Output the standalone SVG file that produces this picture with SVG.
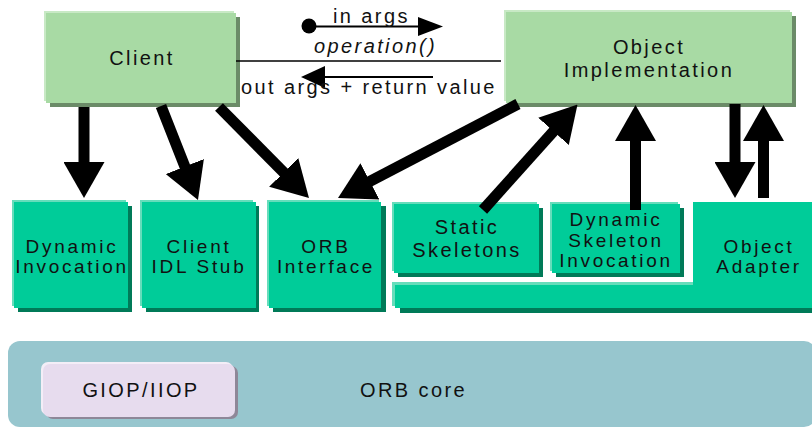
<svg xmlns="http://www.w3.org/2000/svg" width="812" height="428" viewBox="0 0 812 428">
<defs>
<style>
text{font-family:"Liberation Sans",Arial,Helvetica,sans-serif;font-size:20px;letter-spacing:2.4px;fill:#111}
.c{text-anchor:middle}
.s{font-size:19px;letter-spacing:2.7px}
.gl{fill:#C8E9C5}.gm{fill:#A8DAA4}.gs{fill:#6B8B68}
.tl{fill:#66DDBB}.tm{fill:#00CC99}.ts{fill:#007A58}
.big{stroke:#000;stroke-width:11;fill:none;marker-end:url(#head)}
.thin{stroke:#000;stroke-width:2;fill:none}
.hd{fill:#000}
</style>
<marker id="head" markerUnits="userSpaceOnUse" markerWidth="36" markerHeight="41" viewBox="0 0 36 41" refX="6" refY="20.5" orient="auto">
<path d="M0,0 L36,20.5 L0,41 z" fill="#000"/>
</marker>
</defs>
<rect width="812" height="428" fill="#fff"/>

<g id="orb-core">
<rect x="8" y="341" width="808" height="86" rx="12" fill="#97C6CE"/>
<text x="360" y="397">ORB core</text>
</g>
<g id="giop">
<rect x="46" y="366" width="192" height="53" rx="7" fill="#8E8798"/>
<rect x="41" y="362" width="192" height="53" rx="7" fill="#F3EEF7"/>
<rect x="43" y="364" width="192" height="53" rx="7" fill="#E7DCEE"/>
<text class="c" x="141" y="397">GIOP/IIOP</text>
</g>

<g id="client">
<rect class="gs" x="50" y="17" width="190" height="90"/>
<rect class="gl" x="44" y="11" width="190" height="90"/>
<rect class="gm" x="46" y="13" width="190" height="90"/>
<text class="c" x="142" y="65">Client</text>
</g>
<g id="object-implementation">
<rect class="gs" x="510" y="16" width="286" height="91"/>
<rect class="gl" x="504" y="10" width="286" height="91"/>
<rect class="gm" x="506" y="12" width="286" height="91"/>
<text class="c" x="649" y="54">Object</text>
<text class="c" x="649" y="77">Implementation</text>
</g>

<g id="dynamic-invocation">
<rect class="ts" x="18" y="206" width="114" height="106"/>
<rect class="tl" x="12" y="200" width="114" height="106"/>
<rect class="tm" x="14" y="202" width="114" height="106"/>
<text class="c s" x="72" y="252.5">Dynamic</text>
<text class="c s" x="72" y="272.5">Invocation</text>
</g>
<g id="client-idl-stub">
<rect class="ts" x="146" y="206" width="113" height="106"/>
<rect class="tl" x="140" y="200" width="113" height="106"/>
<rect class="tm" x="142" y="202" width="114" height="106"/>
<text class="c s" x="199" y="252.5">Client</text>
<text class="c s" x="199" y="272.5">IDL Stub</text>
</g>
<g id="orb-interface">
<rect class="ts" x="273" y="206" width="113" height="106"/>
<rect class="tl" x="267" y="200" width="112" height="106"/>
<rect class="tm" x="269" y="202" width="112" height="106"/>
<text class="c s" x="326" y="252.5">ORB</text>
<text class="c s" x="326" y="272.5">Interface</text>
</g>

<g id="object-adapter">
<rect class="ts" x="400" y="292" width="420" height="21"/>
<rect class="tl" x="392" y="282" width="302" height="24"/>
<path class="tm" d="M693,202 L812,202 L812,308 L395,308 L395,285 L693,285 Z"/>
<text class="c s" x="759" y="252.5">Object</text>
<text class="c s" x="759" y="272.5">Adapter</text>
</g>
<g id="static-skeletons">
<rect class="ts" x="398" y="208" width="145" height="69"/>
<rect class="tl" x="392" y="202" width="145" height="69"/>
<rect class="tm" x="394" y="204" width="145" height="69"/>
<text class="c" x="467" y="234">Static</text>
<text class="c" x="467" y="257">Skeletons</text>
</g>
<g id="dynamic-skeleton-invocation">
<rect class="ts" x="556" y="208" width="128" height="69"/>
<rect class="tl" x="550" y="202" width="128" height="69"/>
<rect class="tm" x="552" y="204" width="128" height="69"/>
<text class="c s" x="616" y="226">Dynamic</text>
<text class="c s" x="616" y="246.5">Skeleton</text>
<text class="c s" x="616" y="267">Invocation</text>
</g>

<g id="connectors">
<line class="big" x1="84" y1="107" x2="84" y2="168"/>
<line class="big" x1="161" y1="106" x2="187" y2="172.1"/>
<line class="big" x1="219" y1="107" x2="287.9" y2="176.7"/>
<line class="big" x1="518" y1="104" x2="364.6" y2="184.1"/>
<line class="big" x1="483" y1="210" x2="557.5" y2="126.9"/>
<line class="big" x1="635.5" y1="210" x2="635.5" y2="135"/>
<line class="big" x1="735" y1="104" x2="735" y2="168"/>
<line class="big" x1="763.5" y1="198" x2="763.5" y2="135"/>

<line x1="236" y1="61" x2="501" y2="61" stroke="#000" stroke-width="1.4"/>
<circle cx="309" cy="26" r="7.5" fill="#000"/>
<line class="thin" x1="309" y1="26.5" x2="420" y2="26.5"/>
<path class="hd" d="M418,17 L443,26.5 L418,36 Z"/>
<line class="thin" x1="433" y1="77" x2="322" y2="77"/>
<path class="hd" d="M325,66 L301,77 L325,88 Z"/>
<text x="333" y="23">in args</text>
<text x="314" y="53" font-style="italic">operation()</text>
<text x="241" y="94">out args + return value</text>
</g>
</svg>
